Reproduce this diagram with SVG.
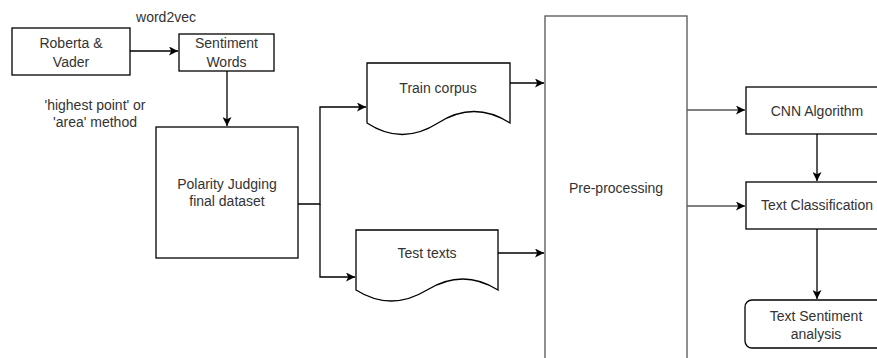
<svg xmlns="http://www.w3.org/2000/svg" width="877" height="358" viewBox="0 0 877 358">
<defs>
<marker id="arr" viewBox="0 0 10 10" refX="10" refY="5" markerWidth="9" markerHeight="9" markerUnits="userSpaceOnUse" orient="auto">
<path d="M0,0 L10,5 L0,10 L2.5,5 Z" fill="#000"/>
</marker>
</defs>
<style>
.box{fill:#fff;stroke:#000;stroke-width:1.3}
.pp{fill:#fff;stroke:#555;stroke-width:1.3}
.t{font-family:"Liberation Sans",Arial,sans-serif;font-size:14px;fill:#333;text-anchor:middle}
.c{fill:none;stroke:#000;stroke-width:1.3}
.cg{fill:none;stroke:#555;stroke-width:1.3}
</style>
<rect width="877" height="358" fill="#fff"/>
<g id="connectors">
<path class="c" d="M130,51 H178" marker-end="url(#arr)"/>
<path class="c" d="M227,71 V126" marker-end="url(#arr)"/>
<path class="c" d="M298,204 H320 V107 H366" marker-end="url(#arr)"/>
<path class="c" d="M320,204 V277 H355" marker-end="url(#arr)"/>
<path class="c" d="M510,83 H544" marker-end="url(#arr)"/>
<path class="c" d="M498,253 H544" marker-end="url(#arr)"/>
<path class="cg" d="M687,110 H745" marker-end="url(#arr)"/>
<path class="cg" d="M687,206 H745" marker-end="url(#arr)"/>
<path class="c" d="M817,134 V181" marker-end="url(#arr)"/>
<path class="c" d="M817,229 V299" marker-end="url(#arr)"/>
</g>
<g id="labels">
<text class="t" x="166" y="22">word2vec</text>
<text class="t" x="95" y="110">'highest point' or</text>
<text class="t" x="95" y="127">'area' method</text>
</g>
<g id="roberta">
<rect class="box" x="12" y="28" width="118" height="47"/>
<text class="t" x="71" y="48">Roberta &amp;</text>
<text class="t" x="71" y="67">Vader</text>
</g>
<g id="sentiment-words">
<rect class="box" x="179" y="34" width="95" height="37"/>
<text class="t" x="226.5" y="48">Sentiment</text>
<text class="t" x="226.5" y="67">Words</text>
</g>
<g id="polarity">
<rect class="box" x="156" y="127" width="142" height="131"/>
<text class="t" x="227" y="189">Polarity Judging</text>
<text class="t" x="227" y="206">final dataset</text>
</g>
<g id="train-corpus">
<path class="box" d="M367,63 H510 V123 Q474,100 438,123 Q402,146 367,123 Z"/>
<text class="t" x="438" y="93">Train corpus</text>
</g>
<g id="test-texts">
<path class="box" d="M356,230 H498 V290 Q463,268 427,290 Q391,312 356,290 Z"/>
<text class="t" x="427" y="258">Test texts</text>
</g>
<g id="preprocessing">
<rect class="pp" x="545" y="16" width="142" height="360"/>
<text class="t" x="616" y="193">Pre-processing</text>
</g>
<g id="cnn">
<rect class="box" x="746" y="87" width="142" height="47"/>
<text class="t" x="817" y="116">CNN Algorithm</text>
</g>
<g id="text-classification">
<rect class="box" x="746" y="182" width="142" height="47"/>
<text class="t" x="817" y="210">Text Classification</text>
</g>
<g id="text-sentiment">
<rect class="box" x="745" y="300" width="142" height="48" rx="7"/>
<text class="t" x="816" y="321">Text Sentiment</text>
<text class="t" x="816" y="339">analysis</text>
</g>
</svg>
